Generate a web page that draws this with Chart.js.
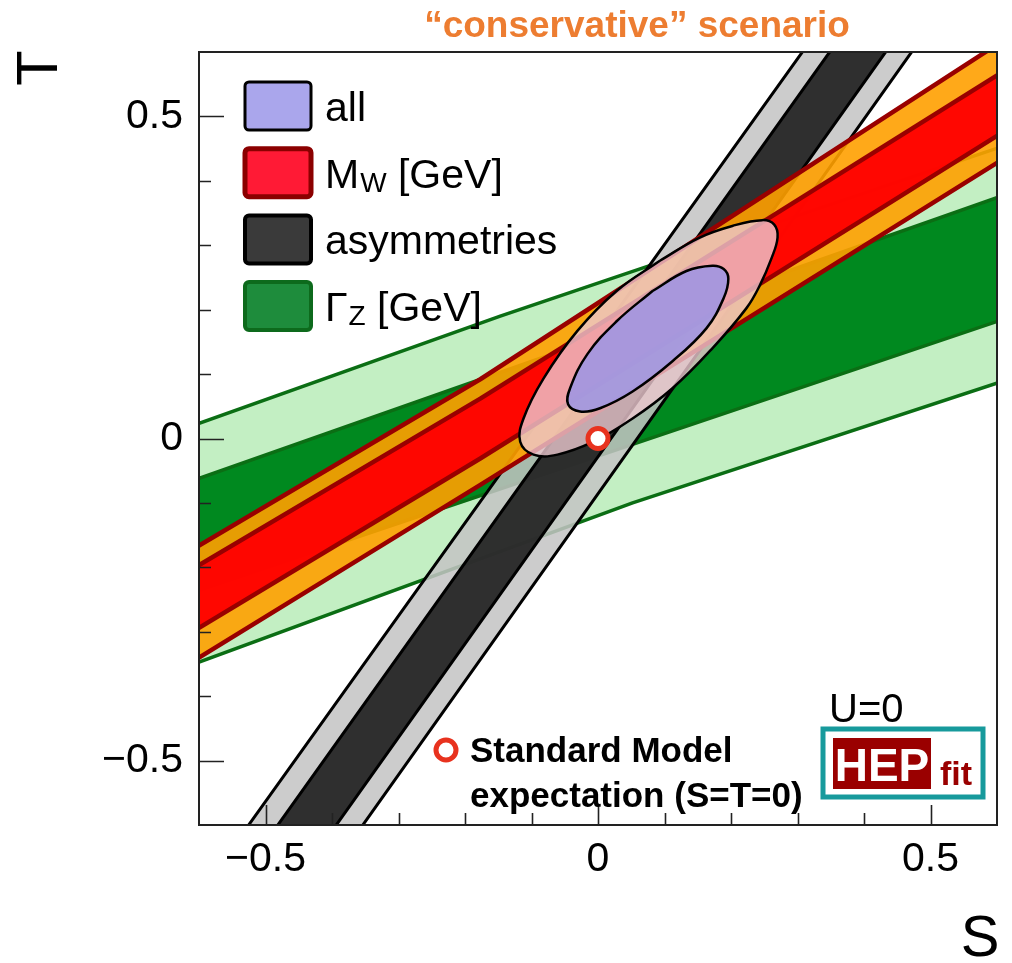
<!DOCTYPE html>
<html>
<head>
<meta charset="utf-8">
<script src="https://cdn.jsdelivr.net/npm/chart.js@4.4.0/dist/chart.umd.min.js"></script>
<style>
  html, body { margin: 0; padding: 0; background: #fff; }
  #c { display: block; }
</style>
</head>
<body>
<canvas id="c" width="1012" height="963"></canvas>
<script>
// Gamma_Z band edges (S -> T)
const gz2LoS = [-0.65, 0.052, 0.65];
const gz2LoT = [-0.366, -0.100, 0.103];
const gz2HiS = [-0.65, -0.147, 0.65];
const gz2HiT = [0.005, 0.190, 0.468];
const gz1LoS = [-0.65, 0.052, 0.65];
const gz1LoT = [-0.253, -0.009, 0.199];
const gz1HiS = [-0.65, 0.65];
const gz1HiT = [-0.080, 0.392];

// M_W band edges (S -> T)
const mw2LoS = [-0.65, -0.177, 0.65];
const mw2LoT = [-0.372, -0.072, 0.460];
const mw1LoS = [-0.65, -0.177, 0.65];
const mw1LoT = [-0.325, -0.031, 0.502];
const mw1HiS = [-0.65, -0.177, 0.65];
const mw1HiT = [-0.227, 0.062, 0.596];
const mw2HiS = [-0.65, -0.177, 0.65];
const mw2HiT = [-0.197, 0.092, 0.645];

// asymmetries band edges (T -> S), nearly vertical
const asyT = [-0.65, 0.65];
const asy2LeftS = [-0.560, 0.342];
const asy1LeftS = [-0.516, 0.383];
const asy1RightS = [-0.428, 0.467];
const asy2RightS = [-0.388, 0.506];

// "all" contours, starting on a flat side so the closing join is hidden
const all2S = [0.093, 0.028, -0.031, -0.082, -0.112, -0.117, -0.097, -0.061, -0.007, 0.052, 0.112, 0.172, 0.223, 0.243, 0.261, 0.270, 0.265, 0.247, 0.202, 0.153, 0.093];
const all2T = [0.276, 0.229, 0.167, 0.093, 0.031, -0.005, -0.025, -0.025, -0.005, 0.031, 0.078, 0.140, 0.202, 0.237, 0.280, 0.312, 0.332, 0.339, 0.330, 0.312, 0.276];
const all1S = [0.082, 0.028, -0.016, -0.042, -0.045, -0.027, 0.003, 0.052, 0.112, 0.163, 0.189, 0.196, 0.189, 0.172, 0.133, 0.082];
const all1T = [0.229, 0.182, 0.131, 0.078, 0.053, 0.042, 0.047, 0.073, 0.120, 0.171, 0.218, 0.248, 0.263, 0.268, 0.260, 0.229];

// Standard Model point
const smS = [0];
const smT = [0];

// axes
const axisMin = -0.6;
const axisMax = 0.6;
const tickStep = 0.1;

const legendLabels = [
  { main: 'all', sub: '', tail: '' },
  { main: 'M', sub: 'W', tail: ' [GeV]' },
  { main: 'asymmetries', sub: '', tail: '' },
  { main: '\u0393', sub: 'Z', tail: ' [GeV]' }
];
const legendStyles = [
  { fill: '#aaa6ec', border: '#000000', bw: 3 },
  { fill: '#ff1a35', border: '#8b0000', bw: 5 },
  { fill: '#3a3a3a', border: '#000000', bw: 4 },
  { fill: '#1e8c3c', border: '#0d6a1c', bw: 4 }
];

const FONT = "'Liberation Sans', Arial, Helvetica, sans-serif";

function edge(sArr, tArr) {
  return sArr.map((s, i) => ({ x: s, y: tArr[i] }));
}
// banda: borde inferior de izquierda a derecha y superior de vuelta
function band(loS, loT, hiS, hiT) {
  return edge(loS, loT).concat(edge(hiS, hiT).reverse());
}
// banda casi vertical, el cierre queda fuera del area
function steepBand(leftS, rightS, t) {
  return [
    { x: rightS[0], y: t[0] },
    { x: rightS[1], y: t[1] },
    { x: leftS[1], y: t[1] },
    { x: leftS[0], y: t[0] }
  ];
}

function isMajor(v) {
  return Math.abs(v * 2 - Math.round(v * 2)) < 1e-6;
}
function fmt(v) {
  const r = Math.round(v * 10) / 10;
  if (r === 0) return '0';
  return (r < 0 ? '\u2212' : '') + Math.abs(r).toString();
}

function area(data, fill, border, bw, order, extra) {
  return Object.assign({
    data: data,
    fill: 'shape',
    backgroundColor: fill,
    borderColor: border,
    borderWidth: bw,
    borderJoinStyle: 'round',
    pointRadius: 0,
    pointHitRadius: 0,
    clip: 0,
    order: order
  }, extra || {});
}

const datasets = [
  area(band(gz2LoS, gz2LoT, gz2HiS, gz2HiT), '#c3efc3', '#0b6e14', 3.5, 90),
  area(band(gz1LoS, gz1LoT, gz1HiS, gz1HiT), '#00891f', '#0b6e14', 3.5, 80),
  area(steepBand(asy2LeftS, asy2RightS, asyT), 'rgba(196,196,196,0.86)', '#000000', 3, 70),
  area(steepBand(asy1LeftS, asy1RightS, asyT), 'rgba(30,30,30,0.9)', '#000000', 3, 60),
  area(band(mw2LoS, mw2LoT, mw2HiS, mw2HiT), 'rgba(255,160,0,0.9)', '#990000', 4.5, 50),
  area(band(mw1LoS, mw1LoT, mw1HiS, mw1HiT), 'rgba(255,0,0,0.96)', '#990000', 4.5, 40),
  area(edge(all2S, all2T), 'rgba(236,200,208,0.8)', '#000000', 2.5, 30, { tension: 0.4 }),
  area(edge(all1S, all1T), 'rgba(160,150,226,0.9)', '#000000', 2.5, 20, { tension: 0.4 }),
  {
    data: edge(smS, smT),
    showLine: false,
    pointRadius: 10,
    pointBorderWidth: 5,
    pointBackgroundColor: '#ffffff',
    pointBorderColor: '#e8321e',
    order: 0
  }
];

function drawMarker(c, x, y) {
  c.beginPath();
  c.arc(x, y, 10, 0, Math.PI * 2);
  c.fillStyle = '#ffffff';
  c.fill();
  c.lineWidth = 5;
  c.strokeStyle = '#e8321e';
  c.stroke();
}

function roundBox(c, x, y, w, h, r) {
  c.beginPath();
  if (c.roundRect) c.roundRect(x, y, w, h, r);
  else c.rect(x, y, w, h);
}

const overlay = {
  id: 'overlay',
  beforeDraw(chart) {
    const c = chart.ctx;
    c.save();
    c.fillStyle = '#ffffff';
    c.fillRect(0, 0, chart.width, chart.height);
    c.restore();
  },
  afterDatasetsDraw(chart) {
    const c = chart.ctx, a = chart.chartArea;
    const xs = chart.scales.x, ys = chart.scales.y;
    c.save();
    c.strokeStyle = '#222222';
    c.lineWidth = 2;
    c.strokeRect(a.left, a.top, a.right - a.left, a.bottom - a.top);
    // ticks hacia dentro
    c.lineWidth = 1.6;
    c.beginPath();
    xs.ticks.forEach(t => {
      if (Math.abs(t.value) > 0.59) return;
      const px = Math.round(xs.getPixelForValue(t.value)) + 0.5;
      const len = isMajor(t.value) ? 20 : 12;
      c.moveTo(px, a.bottom);
      c.lineTo(px, a.bottom - len);
    });
    ys.ticks.forEach(t => {
      if (Math.abs(t.value) > 0.59) return;
      const py = Math.round(ys.getPixelForValue(t.value)) + 0.5;
      const len = isMajor(t.value) ? 25 : 12;
      c.moveTo(a.left, py);
      c.lineTo(a.left + len, py);
    });
    c.stroke();
    c.restore();
  },
  afterDraw(chart) {
    const c = chart.ctx;
    c.save();

    // titulo
    c.fillStyle = '#ed7d31';
    c.font = 'bold 37px ' + FONT;
    c.textAlign = 'center';
    c.textBaseline = 'alphabetic';
    c.fillText('\u201cconservative\u201d scenario', 637, 37);

    // titulos de ejes
    c.fillStyle = '#000000';
    c.font = '58px ' + FONT;
    c.fillText('S', 980, 956);
    c.save();
    c.translate(57, 68);
    c.rotate(-Math.PI / 2);
    c.fillText('T', 0, 0);
    c.restore();

    // leyenda
    legendLabels.forEach((item, i) => {
      const st = legendStyles[i];
      const top = 82 + i * 66.7;
      roundBox(c, 245, top, 66, 48, 4);
      c.fillStyle = st.fill;
      c.fill();
      c.lineWidth = st.bw;
      c.strokeStyle = st.border;
      c.stroke();

      const base = top + 24 + 15;
      let x = 325;
      c.fillStyle = '#000000';
      c.textAlign = 'left';
      c.font = '41px ' + FONT;
      c.fillText(item.main, x, base);
      x += c.measureText(item.main).width + 1;
      if (item.sub) {
        c.font = '28px ' + FONT;
        c.fillText(item.sub, x, base + 4);
        x += c.measureText(item.sub).width;
        c.font = '41px ' + FONT;
        c.fillText(item.tail, x, base);
      }
    });

    // Standard Model
    drawMarker(c, 446, 750);
    c.fillStyle = '#000000';
    c.font = 'bold 35px ' + FONT;
    c.textAlign = 'left';
    c.fillText('Standard Model', 470, 762);
    c.fillText('expectation (S=T=0)', 470, 807);

    // U=0 y logo HEPfit
    c.font = '40px ' + FONT;
    c.fillText('U=0', 829, 722);
    c.fillStyle = '#ffffff';
    c.fillRect(823, 729, 160, 68);
    c.lineWidth = 5;
    c.strokeStyle = '#179a9c';
    c.strokeRect(823, 729, 160, 68);
    c.fillStyle = '#9a0000';
    c.fillRect(833, 738, 98, 51);
    c.fillStyle = '#ffffff';
    c.font = 'bold 46px ' + FONT;
    c.textAlign = 'center';
    c.fillText('HEP', 882, 781);
    c.fillStyle = '#9a0000';
    c.font = 'bold 34px ' + FONT;
    c.textAlign = 'left';
    c.fillText('fit', 940, 785);

    c.restore();
  }
};

const tickFont = { family: FONT, size: 41 };

new Chart(document.getElementById('c'), {
  type: 'line',
  data: { datasets: datasets },
  options: {
    responsive: false,
    animation: false,
    events: [],
    layout: { padding: { top: 52, right: 13, left: 0, bottom: 0 } },
    plugins: {
      legend: { display: false },
      tooltip: { enabled: false },
      filler: { drawTime: 'beforeDatasetDraw' }
    },
    scales: {
      x: {
        type: 'linear',
        min: axisMin,
        max: axisMax,
        grid: { display: false, drawTicks: false },
        border: { display: false },
        afterFit: s => { s.height = 138; },
        ticks: {
          stepSize: tickStep,
          autoSkip: false,
          maxRotation: 0,
          padding: 10,
          color: '#000000',
          font: tickFont,
          callback: v => isMajor(v) ? fmt(v) : ''
        }
      },
      y: {
        type: 'linear',
        min: axisMin,
        max: axisMax,
        grid: { display: false, drawTicks: false },
        border: { display: false },
        afterFit: s => { s.width = 199; },
        ticks: {
          stepSize: tickStep,
          autoSkip: false,
          padding: 16,
          color: '#000000',
          font: tickFont,
          callback: v => isMajor(v) ? fmt(v) : ''
        }
      }
    }
  },
  plugins: [overlay]
});
</script>
</body>
</html>
